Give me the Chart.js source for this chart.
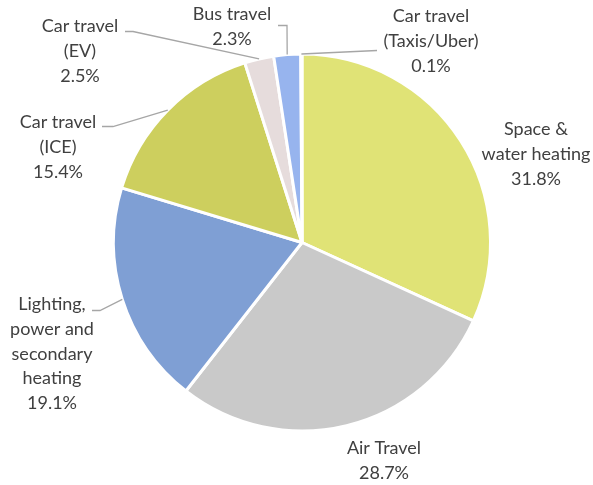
<!DOCTYPE html>
<html><head><meta charset="utf-8">
<script src="https://cdn.jsdelivr.net/npm/chart.js@4"></script>
<style>html,body{margin:0;padding:0;background:#fff}#wrap{width:593px;height:485px}</style>
</head><body><div id="wrap"><canvas id="c" width="593" height="485"></canvas></div>
<script>
const categories = [
  ["Space &", "water heating"],
  ["Air Travel"],
  ["Lighting,", "power and", "secondary", "heating"],
  ["Car travel", "(ICE)"],
  ["Car travel", "(EV)"],
  ["Bus travel"],
  ["Car travel", "(Taxis/Uber)"]
];
const values = [31.8, 28.7, 19.1, 15.4, 2.5, 2.3, 0.1];
const valueLabels = ["31.8%", "28.7%", "19.1%", "15.4%", "2.5%", "2.3%", "0.1%"];
const colors = ["#e0e376", "#c9c9c9", "#7f9fd4", "#cdcf5e", "#e6dcdc", "#97b4ee", "#bfd3f3"];

// label layout (style): text centre x, first line y, optional leader elbow/end (px relative to pie centre)
const labelLayout = [
  {x: 234, y: -113},
  {x: 82, y: 206},
  {x: -250, y: 62, elbow: [-202, 68], end: [-210, 68]},
  {x: -244, y: -120, elbow: [-189, -116], end: [-200, -116]},
  {x: -222, y: -216, elbow: [-169, -211], end: [-177, -211]},
  {x: -70, y: -228, elbow: [-15, -217], end: [-24, -217]},
  {x: 129, y: -226, elbow: [75, -192], end: [75, -192]}
];

const labelPlugin = {
  id: 'pieLabels',
  afterDatasetsDraw(chart) {
    const ctx = chart.ctx;
    const meta = chart.getDatasetMeta(0);
    ctx.save();
    ctx.font = '18px Lato';
    ctx.textAlign = 'center';
    ctx.textBaseline = 'middle';
    const lh = 24.6;
    meta.data.forEach((arc, i) => {
      const lay = labelLayout[i];
      const cx = arc.x, cy = arc.y;
      if (lay.elbow) {
        const mid = (arc.startAngle + arc.endAngle) / 2;
        const sx = cx + Math.cos(mid) * arc.outerRadius;
        const sy = cy + Math.sin(mid) * arc.outerRadius;
        ctx.strokeStyle = '#a6a6a6';
        ctx.lineWidth = 1.3;
        ctx.beginPath();
        ctx.moveTo(sx, sy);
        ctx.lineTo(cx + lay.elbow[0], cy + lay.elbow[1]);
        ctx.lineTo(cx + lay.end[0], cy + lay.end[1]);
        ctx.stroke();
      }
      const lines = categories[i].concat([valueLabels[i]]);
      ctx.fillStyle = '#404040';
      lines.forEach((t, k) => {
        ctx.fillText(t, cx + lay.x, cy + lay.y + k * lh);
      });
    });
    ctx.restore();
  }
};

new Chart(document.getElementById('c'), {
  type: 'pie',
  data: {
    labels: categories.map(c => c.join(' ')),
    datasets: [{
      data: values,
      backgroundColor: colors,
      borderColor: '#ffffff',
      borderWidth: 3
    }]
  },
  options: {
    responsive: false,
    animation: false,
    layout: {padding: {top: 52, bottom: 52, left: 112, right: 101}},
    plugins: {legend: {display: false}, tooltip: {enabled: false}}
  },
  plugins: [labelPlugin]
});
</script>
</body></html>
